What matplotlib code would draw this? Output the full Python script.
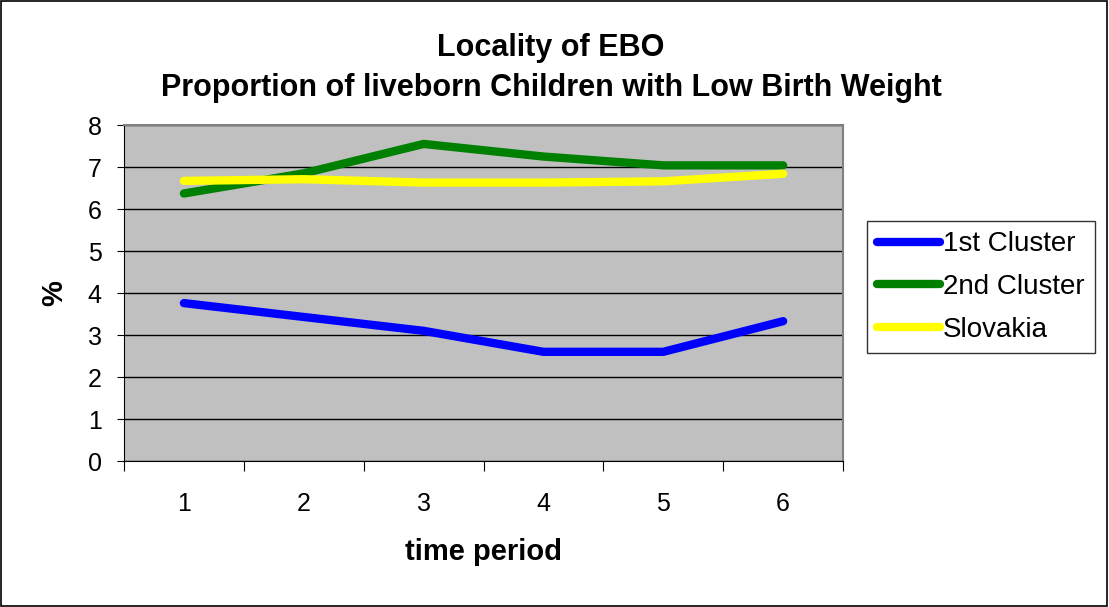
import numpy as np
import matplotlib.pyplot as plt
from matplotlib.patches import Rectangle

plt.rcParams['font.family'] = ['Liberation Sans', 'DejaVu Sans']

# time periods and values (%)
periods = [1, 2, 3, 4, 5, 6]
cluster1 = [3.76, 3.43, 3.10, 2.60, 2.60, 3.33]
cluster2 = [6.37, 6.85, 7.55, 7.25, 7.04, 7.04]
slovakia = [6.67, 6.71, 6.63, 6.63, 6.66, 6.84]

fig = plt.figure(figsize=(11.09, 6.07), dpi=100)
ax = fig.add_axes([0.1118, 0.2405, 0.6484, 0.5535])
ax.set_facecolor('#C0C0C0')

x = np.arange(len(periods))
ax.plot(x, cluster1, color='#0000FF', lw=6, solid_capstyle='round', label='1st Cluster')
ax.plot(x, cluster2, color='#008000', lw=6, solid_capstyle='round', label='2nd Cluster')
ax.plot(x, slovakia, color='#FFFF00', lw=6, solid_capstyle='round', label='Slovakia')

ax.set_xlim(-0.5, len(periods) - 0.5)
ax.set_ylim(0, 8)
ax.set_yticks(range(0, 9))
ax.yaxis.grid(True, color='black', lw=1)
ax.set_axisbelow(True)

ax.set_xticks(np.arange(-0.5, len(periods), 1.0))
ax.set_xticklabels([])
ax.set_xticks(x, minor=True)
ax.set_xticklabels([str(p) for p in periods], minor=True)
ax.tick_params(axis='x', which='minor', length=0, pad=22, labelsize=18)
ax.tick_params(axis='x', which='major', length=7, direction='out', color='black')
ax.tick_params(axis='y', length=5, direction='out', labelsize=18, pad=11)

for s in ['top', 'right']:
    ax.spines[s].set_color('#808080')
    ax.spines[s].set_linewidth(1.5)
ax.spines['left'].set_color('black')
ax.spines['bottom'].set_color('black')

ax.set_xlabel('time period', fontsize=21, fontweight='bold', labelpad=16)
ax.set_ylabel('%', fontsize=21, fontweight='bold', labelpad=14)

fig.text(0.497, 0.921, 'Locality of EBO', ha='center', va='center', fontsize=22, fontweight='bold')
fig.text(0.497, 0.855, 'Proportion of liveborn Children with Low Birth Weight',
         ha='center', va='center', fontsize=22, fontweight='bold')

leg = ax.legend(loc='center left', bbox_to_anchor=(1.033, 0.518), fontsize=20,
                frameon=True, fancybox=False, handlelength=2.25, handletextpad=0.1,
                borderpad=0.38, labelspacing=0.6, borderaxespad=0)
leg.get_frame().set_edgecolor('black')
leg.get_frame().set_linewidth(1)

fig.patches.append(Rectangle((0.001, 0.002), 0.997, 0.996, transform=fig.transFigure,
                             fill=False, edgecolor='black', lw=1.2))

fig.savefig('out.png', dpi=100)
